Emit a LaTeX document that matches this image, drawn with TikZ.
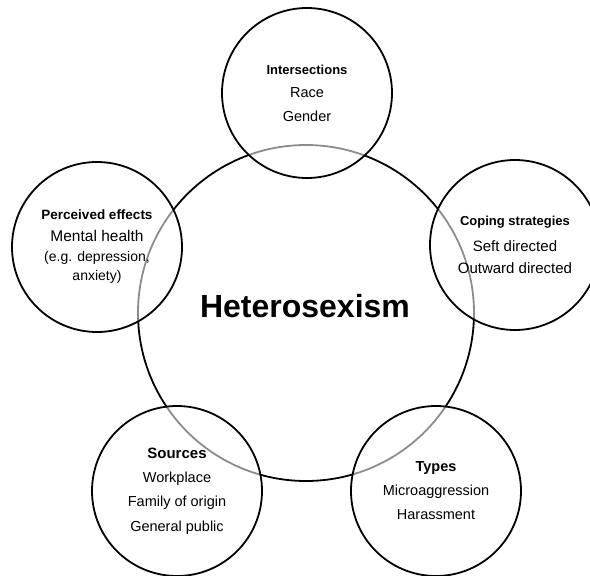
\documentclass[tikz,border=0pt]{standalone}
\usepackage{fontspec}
\setmainfont{Liberation Sans}
\begin{document}
\begin{tikzpicture}[x=1pt,y=-1pt,
  hub/.style={circle,draw=black,line width=1.8pt,minimum size=336pt,inner sep=0pt},
  sat/.style={circle,draw=black,line width=1.8pt,minimum size=170pt,inner sep=0pt,
    fill=white,fill opacity=0.55,draw opacity=1,text opacity=1,align=center,
    font=\fontsize{14.5}{24}\selectfont},
  hdr/.style={font=\fontsize{13.5}{24}\selectfont\bfseries}]
\useasboundingbox (0,0) rectangle (590,576);
\node[hub] (hub) at (306,313) {};
\node[anchor=base,font=\fontsize{32}{36}\selectfont\bfseries] (title) at (305,317) {Heterosexism};
\node[sat,font=\fontsize{14.5}{23.5}\selectfont] (top) at (307,93)
  {{\fontsize{13}{23.5}\selectfont\bfseries Intersections}\\Race\\Gender};
\node[sat,font=\fontsize{14.5}{19.5}\selectfont,yshift=-2pt] (left) at (97,245)
  {{\fontsize{13.5}{19.5}\selectfont\bfseries Perceived effects}\\[2.5pt]{\fontsize{15.5}{19.5}\selectfont Mental health}\\{\fontsize{14}{19.5}\selectfont (e.g. depression,}\\{\fontsize{14}{19.5}\selectfont anxiety)}};
\node[sat,font=\fontsize{15}{22}\selectfont] (right) at (515,245)
  {{\fontsize{13}{22}\selectfont\bfseries Coping strategies}\\[4pt]Seft directed\\Outward directed};
\node[sat,font=\fontsize{14.5}{24.3}\selectfont] (botleft) at (177,491)
  {{\fontsize{15}{24.3}\selectfont\bfseries Sources}\\Workplace\\Family of origin\\General public};
\node[sat,font=\fontsize{14.5}{24}\selectfont] (botright) at (436,491)
  {{\fontsize{14.5}{24}\selectfont\bfseries Types}\\Microaggression\\Harassment};
\end{tikzpicture}
\end{document}
